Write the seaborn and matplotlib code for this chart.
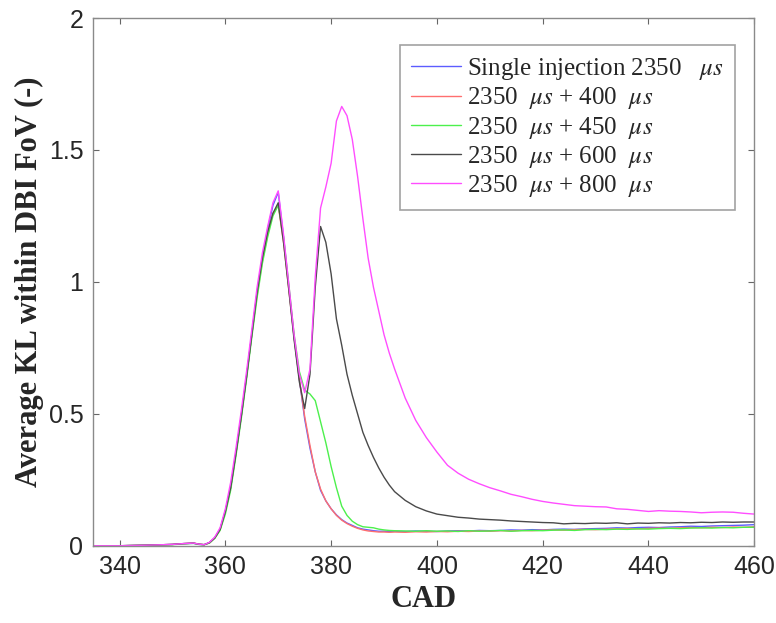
import pandas as pd
import matplotlib
matplotlib.use('Agg')
import matplotlib.pyplot as plt
import seaborn as sns

# CAD grid shared by all curves
cad = [335, 340, 345, 350, 352, 354, 355,
       356, 357, 358, 359, 360, 361, 362, 363, 364, 365, 366, 367, 368, 369,
       370, 371, 372, 373, 374, 375, 376, 377, 378, 379, 380, 381, 382, 383,
       384, 385, 386, 387, 388, 389, 390, 391, 392,
       394, 396, 398, 400, 402, 404, 406, 408, 410, 412, 414, 416, 418, 420,
       422, 424, 426, 428, 430, 432, 434, 436, 438, 440, 442, 444, 446, 448,
       450, 452, 454, 456, 458, 460]

single_2350 = [0.0, 0.0, 0.002, 0.005, 0.008, 0.009, 0.005,
               0.004, 0.012, 0.03, 0.062, 0.13, 0.22, 0.35, 0.49, 0.64, 0.80, 0.96, 1.09, 1.20, 1.29,
               1.34, 1.17, 0.98, 0.79, 0.63, 0.48, 0.37, 0.28, 0.21, 0.17, 0.14, 0.117, 0.099, 0.086,
               0.077, 0.068, 0.063, 0.060, 0.057, 0.055, 0.055, 0.054, 0.055,
               0.054, 0.056, 0.055, 0.054, 0.056, 0.057, 0.056, 0.058, 0.057, 0.058, 0.060, 0.059, 0.061, 0.060,
               0.062, 0.063, 0.062, 0.064, 0.065, 0.066, 0.068, 0.067, 0.069, 0.070, 0.069, 0.071, 0.072, 0.074,
               0.073, 0.075, 0.076, 0.077, 0.078, 0.080]

plus_400 = [0.0, 0.0, 0.002, 0.005, 0.008, 0.010, 0.006,
            0.004, 0.011, 0.029, 0.060, 0.13, 0.22, 0.35, 0.49, 0.64, 0.80, 0.95, 1.08, 1.18, 1.26,
            1.29, 1.15, 0.97, 0.79, 0.63, 0.49, 0.38, 0.28, 0.215, 0.17, 0.14, 0.115, 0.097, 0.084,
            0.074, 0.066, 0.060, 0.056, 0.054, 0.052, 0.052, 0.051, 0.052,
            0.051, 0.053, 0.052, 0.054, 0.053, 0.055, 0.054, 0.056, 0.055, 0.057, 0.056, 0.058, 0.057, 0.059,
            0.060, 0.059, 0.061, 0.062, 0.061, 0.063, 0.064, 0.065, 0.064, 0.066, 0.067, 0.066, 0.068, 0.069,
            0.068, 0.070, 0.069, 0.071, 0.070, 0.072]

plus_450 = [0.0, 0.0, 0.002, 0.004, 0.007, 0.009, 0.005,
            0.004, 0.010, 0.028, 0.058, 0.12, 0.21, 0.34, 0.48, 0.63, 0.79, 0.94, 1.07, 1.17, 1.25,
            1.29, 1.17, 0.99, 0.80, 0.66, 0.59, 0.575, 0.55, 0.47, 0.39, 0.30, 0.22, 0.15, 0.115,
            0.093, 0.080, 0.072, 0.070, 0.068, 0.063, 0.060, 0.058, 0.057,
            0.056, 0.055, 0.057, 0.055, 0.056, 0.054, 0.057, 0.055, 0.056, 0.058, 0.055, 0.057, 0.058, 0.057,
            0.059, 0.060, 0.058, 0.061, 0.062, 0.061, 0.063, 0.062, 0.064, 0.063, 0.065, 0.066, 0.065, 0.067,
            0.068, 0.067, 0.069, 0.068, 0.070, 0.070]

plus_600 = [0.0, 0.0, 0.002, 0.005, 0.008, 0.010, 0.006,
            0.004, 0.012, 0.030, 0.062, 0.13, 0.22, 0.35, 0.49, 0.64, 0.80, 0.96, 1.09, 1.19, 1.26,
            1.30, 1.15, 0.97, 0.78, 0.62, 0.52, 0.65, 0.98, 1.21, 1.15, 1.03, 0.86, 0.76, 0.65,
            0.57, 0.50, 0.43, 0.38, 0.335, 0.295, 0.26, 0.23, 0.205,
            0.172, 0.148, 0.132, 0.120, 0.114, 0.108, 0.105, 0.101, 0.099, 0.097, 0.094, 0.092, 0.090, 0.088,
            0.087, 0.083, 0.085, 0.084, 0.086, 0.085, 0.087, 0.083, 0.086, 0.085, 0.087, 0.086, 0.088, 0.087,
            0.089, 0.088, 0.090, 0.089, 0.090, 0.090]

plus_800 = [0.0, 0.0, 0.002, 0.005, 0.008, 0.010, 0.006,
            0.004, 0.013, 0.033, 0.068, 0.14, 0.24, 0.37, 0.51, 0.66, 0.82, 0.98, 1.11, 1.21, 1.30,
            1.345, 1.18, 0.99, 0.80, 0.65, 0.58, 0.67, 1.02, 1.28, 1.36, 1.45, 1.61, 1.665, 1.63,
            1.54, 1.40, 1.24, 1.09, 0.98, 0.89, 0.80, 0.73, 0.67,
            0.56, 0.475, 0.41, 0.355, 0.305, 0.275, 0.252, 0.235, 0.22, 0.208, 0.195, 0.186, 0.176, 0.168,
            0.162, 0.157, 0.152, 0.150, 0.148, 0.147, 0.140, 0.138, 0.134, 0.130, 0.133, 0.131, 0.130, 0.128,
            0.125, 0.127, 0.128, 0.127, 0.123, 0.120]

labels = ['Single injection 2350   $\\mu s$',
          '2350  $\\mu s$ + 400  $\\mu s$',
          '2350  $\\mu s$ + 450  $\\mu s$',
          '2350  $\\mu s$ + 600  $\\mu s$',
          '2350  $\\mu s$ + 800  $\\mu s$']
colors = ['#5c5cff', '#ff6f6f', '#4cf04c', '#4a4a4a', '#ff4dff']

x_ticks = [340, 360, 380, 400, 420, 440, 460]
y_ticks = [0, 0.5, 1, 1.5, 2]
y_tick_labels = ['0', '0.5', '1', '1.5', '2']

# long-form table for seaborn
series = [single_2350, plus_400, plus_450, plus_600, plus_800]
frames = []
for lab, vals in zip(labels, series):
    frames.append(pd.DataFrame({'CAD': cad, 'KL': vals, 'case': lab}))
df = pd.concat(frames, ignore_index=True)

sns.set_style('white')
plt.rcParams['mathtext.fontset'] = 'stix'

fig = plt.figure(figsize=(7.76, 6.23), dpi=100)
ax = fig.add_axes([0.120, 0.124, 0.852, 0.847])

sns.lineplot(data=df, x='CAD', y='KL', hue='case', hue_order=labels,
             palette=colors, linewidth=1.0, ax=ax)

ax.set_xlim(335, 460)
ax.set_ylim(0, 2)
ax.set_xticks(x_ticks)
ax.set_yticks(y_ticks)
ax.set_yticklabels(y_tick_labels)
ax.tick_params(direction='in', length=4, width=0.8, color='#666666',
               top=True, right=True, bottom=True, left=True,
               labelsize=18, labelcolor='#262626', pad=7)
for lab in ax.get_xticklabels() + ax.get_yticklabels():
    lab.set_family('Liberation Sans')
for sp in ax.spines.values():
    sp.set_color('#8a8a8a')
    sp.set_linewidth(1.0)

ax.set_xlabel('CAD', family='Liberation Serif', fontweight='bold', fontsize=22, labelpad=4)
ax.set_ylabel('Average KL within DBI FoV (-)', family='Liberation Serif',
              fontweight='bold', fontsize=22, labelpad=3)

handles, labs = ax.get_legend_handles_labels()
leg = ax.legend(handles, labs, loc='upper right', bbox_to_anchor=(0.971, 0.949),
                borderaxespad=0, fancybox=False, frameon=True, handlelength=2.0,
                handletextpad=0.22, labelspacing=0.13, borderpad=0.45,
                prop={'family': 'Liberation Serif', 'size': 18})
leg.get_frame().set_edgecolor('#8a8a8a')
leg.get_frame().set_linewidth(1.2)

fig.savefig('out.png', dpi=100)
